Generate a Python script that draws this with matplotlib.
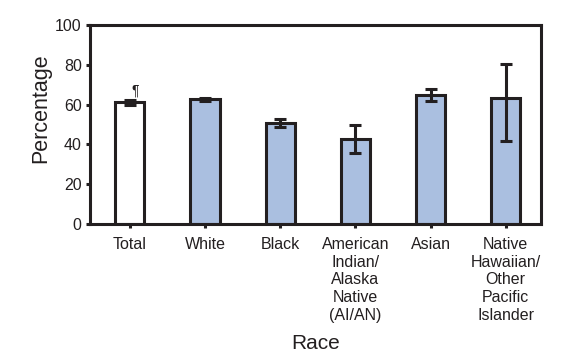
import matplotlib
matplotlib.use("Agg")
import matplotlib.pyplot as plt
import numpy as np

categories = ["Total", "White", "Black", "American\nIndian/\nAlaska\nNative\n(AI/AN)", "Asian",
              "Native\nHawaiian/\nOther\nPacific\nIslander"]
values = [61.2, 62.7, 50.6, 42.6, 64.7, 63.2]
lower = [59.8, 61.8, 48.6, 35.5, 61.7, 41.6]
upper = [62.5, 63.6, 52.6, 50.0, 67.7, 80.4]
yticks = [0, 20, 40, 60, 80, 100]

plt.rcParams['font.family'] = ['Liberation Sans', 'DejaVu Sans']
dark = "#231f20"
fig = plt.figure(figsize=(5.82, 3.59), dpi=100)
ax = fig.add_axes([0.1546, 0.376, 0.775, 0.554])
x = np.arange(len(categories))
colors = ["white"] + ["#aabfe0"] * 5
vals = np.array(values)
yerr = np.array([vals - np.array(lower), np.array(upper) - vals])
lw = 2.2
ax.bar(x, vals, width=0.39, color=colors, edgecolor=dark, linewidth=lw, zorder=2)
ax.errorbar(x, vals, yerr=yerr, fmt="none", ecolor=dark, elinewidth=lw, capsize=4.3, capthick=lw, zorder=3)
ax.text(x[0] + 0.07, upper[0] + 1.2, "¶", ha="center", va="bottom", fontsize=10, color=dark)
ax.set_xlim(-0.53, 5.47)
ax.set_ylim(0, 100)
ax.set_yticks(yticks)
ax.set_xticks(x)
ax.set_xticklabels(categories, fontsize=11.5, color=dark, linespacing=1.22, va="top")
ax.tick_params(axis="y", labelsize=11.5, colors=dark, width=lw, length=3, direction="out", pad=3)
ax.tick_params(axis="x", colors=dark, width=lw, length=3, direction="out", pad=6.5)
for s in ax.spines.values():
    s.set_linewidth(lw)
    s.set_color(dark)
ax.set_ylabel("Percentage", fontsize=15.5, color=dark, labelpad=4)
ax.yaxis.set_label_coords(-0.085, 0.58)
ax.set_xlabel("Race", fontsize=15, color=dark, labelpad=8)
fig.savefig("out.png", dpi=100)
